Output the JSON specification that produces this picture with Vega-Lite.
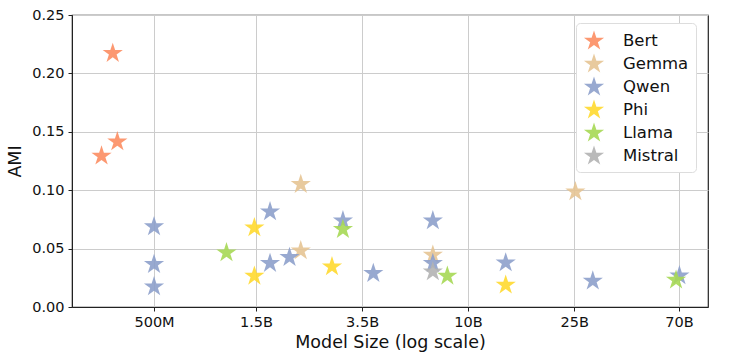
{
  "$schema": "https://vega.github.io/schema/vega-lite/v6.json",
  "width": 636,
  "height": 292,
  "autosize": {"type": "none"},
  "padding": {"left": 72, "top": 15, "right": 30, "bottom": 45},
  "background": "white",
  "config": {
    "font": "DejaVu Sans",
    "view": {"stroke": "#222222", "strokeWidth": 1.2},
    "axis": {
      "gridColor": "#cccccc",
      "gridWidth": 1,
      "domainColor": "#222222",
      "tickColor": "#222222",
      "tickSize": 4,
      "labelFontSize": 14.5,
      "labelColor": "#111111",
      "titleFontSize": 17.5,
      "titleFontWeight": "normal",
      "titleColor": "#111111",
      "labelPadding": 4
    }
  },
  "data": {
    "values": [
      {"model": "Bert", "params": 0.339, "ami": 0.2172},
      {"model": "Bert", "params": 0.354, "ami": 0.1415},
      {"model": "Bert", "params": 0.305, "ami": 0.1293},
      {"model": "Gemma", "params": 1.99, "ami": 0.105},
      {"model": "Gemma", "params": 1.99, "ami": 0.0482},
      {"model": "Gemma", "params": 6.9, "ami": 0.0445},
      {"model": "Gemma", "params": 26.4, "ami": 0.0987},
      {"model": "Qwen", "params": 0.5, "ami": 0.0688},
      {"model": "Qwen", "params": 0.5, "ami": 0.0365},
      {"model": "Qwen", "params": 0.5, "ami": 0.0174},
      {"model": "Qwen", "params": 1.49, "ami": 0.0816},
      {"model": "Qwen", "params": 1.49, "ami": 0.0374},
      {"model": "Qwen", "params": 1.79, "ami": 0.0425},
      {"model": "Qwen", "params": 2.96, "ami": 0.0739},
      {"model": "Qwen", "params": 3.94, "ami": 0.0288},
      {"model": "Qwen", "params": 6.9, "ami": 0.0739},
      {"model": "Qwen", "params": 6.9, "ami": 0.0374},
      {"model": "Qwen", "params": 13.7, "ami": 0.0379},
      {"model": "Qwen", "params": 31.1, "ami": 0.0223},
      {"model": "Qwen", "params": 70.3, "ami": 0.0268},
      {"model": "Phi", "params": 1.286, "ami": 0.0679},
      {"model": "Phi", "params": 1.286, "ami": 0.0265},
      {"model": "Phi", "params": 2.67, "ami": 0.0345},
      {"model": "Phi", "params": 13.7, "ami": 0.0188},
      {"model": "Llama", "params": 0.989, "ami": 0.0465},
      {"model": "Llama", "params": 2.96, "ami": 0.0665},
      {"model": "Llama", "params": 7.91, "ami": 0.0265},
      {"model": "Llama", "params": 68.1, "ami": 0.0231},
      {"model": "Mistral", "params": 6.9, "ami": 0.0302}
    ]
  },
  "mark": {
    "type": "point",
    "shape": "M0,-1L0.225,-0.309L0.951,-0.309L0.363,0.118L0.588,0.809L0,0.382L-0.588,0.809L-0.363,0.118L-0.951,-0.309L-0.225,-0.309Z",
    "filled": true,
    "size": 450,
    "opacity": 0.9,
    "strokeWidth": 0
  },
  "encoding": {
    "x": {
      "field": "params",
      "type": "quantitative",
      "scale": {"type": "log", "domain": [0.231, 92.0], "nice": false},
      "axis": {
        "title": "Model Size (log scale)",
        "values": [0.5, 1.306, 3.545, 9.61, 26.1, 70],
        "labelExpr": "datum.value < 1 ? '500M' : datum.value < 2 ? '1.5B' : datum.value < 5 ? '3.5B' : datum.value < 15 ? '10B' : datum.value < 40 ? '25B' : '70B'",
        "titlePadding": 5
      }
    },
    "y": {
      "field": "ami",
      "type": "quantitative",
      "scale": {"domain": [0, 0.25], "nice": false},
      "axis": {
        "title": "AMI",
        "values": [0, 0.05, 0.1, 0.15, 0.2, 0.25],
        "format": ".2f",
        "titlePadding": 7
      }
    },
    "color": {
      "field": "model",
      "type": "nominal",
      "scale": {
        "domain": ["Bert", "Gemma", "Qwen", "Phi", "Llama", "Mistral"],
        "range": ["#fc8d62", "#e5c494", "#8da0cb", "#ffd92f", "#a6d854", "#b3b3b3"]
      },
      "legend": {
        "title": null,
        "orient": "none",
        "legendX": 504,
        "legendY": 8,
        "symbolType": "M0,-1L0.225,-0.309L0.951,-0.309L0.363,0.118L0.588,0.809L0,0.382L-0.588,0.809L-0.363,0.118L-0.951,-0.309L-0.225,-0.309Z",
        "symbolSize": 450,
        "symbolOpacity": 0.9,
        "symbolStrokeWidth": 0,
        "labelFontSize": 16.5,
        "labelColor": "#111111",
        "labelOffset": 18,
        "rowPadding": 3,
        "padding": 7,
        "strokeColor": "#dddddd",
        "fillColor": "white",
        "cornerRadius": 4
      }
    }
  }
}
